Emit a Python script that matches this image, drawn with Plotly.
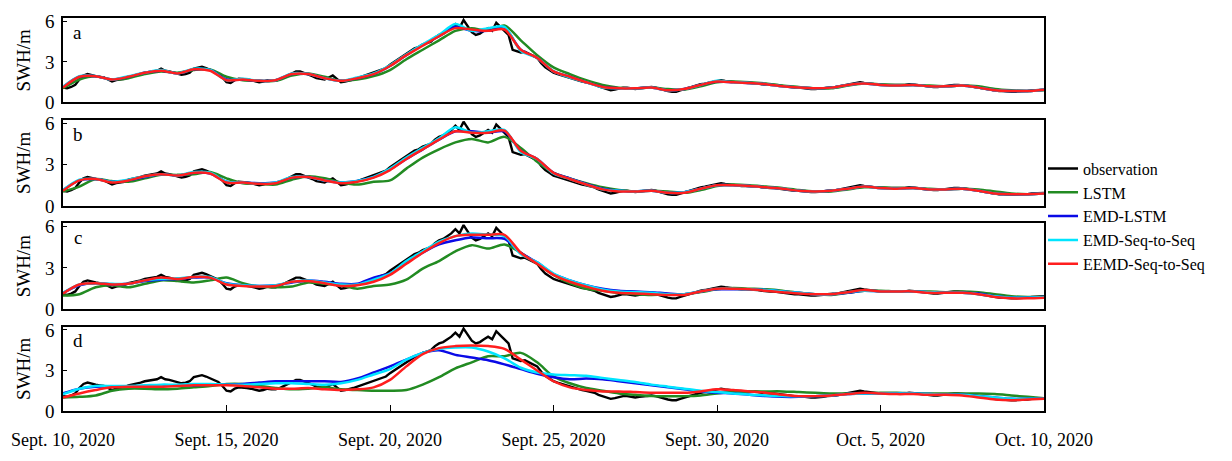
import plotly.graph_objects as go
from plotly.subplots import make_subplots
import pandas as pd

# ---------------- data ----------------
t_obs = pd.date_range("2020-09-10", "2020-10-10", freq="3h")   # 241 points
t_mod = pd.date_range("2020-09-10", "2020-10-10", freq="12h")  # 61 points

observation = [
    1.1, 1.05, 1.15, 1.3, 1.7, 2.0, 2.1, 2.0,        # Sept 10
    1.95, 1.9, 1.85, 1.7, 1.55, 1.65, 1.7, 1.75,     # Sept 11
    1.9, 1.95, 2.0, 2.1, 2.2, 2.25, 2.3, 2.35,       # Sept 12
    2.5, 2.35, 2.3, 2.2, 2.1, 2.05, 2.1, 2.2,        # Sept 13
    2.5, 2.55, 2.65, 2.55, 2.4, 2.3, 2.15, 1.85,     # Sept 14
    1.5, 1.45, 1.65, 1.75, 1.75, 1.7, 1.65, 1.6,     # Sept 15
    1.5, 1.55, 1.65, 1.6, 1.6, 1.7, 1.85, 2.0,       # Sept 16
    2.2, 2.3, 2.3, 2.2, 2.1, 1.95, 1.8, 1.75,        # Sept 17
    1.7, 1.85, 2.0, 1.75, 1.5, 1.55, 1.6, 1.7,       # Sept 18
    1.8, 1.9, 2.0, 2.1, 2.2, 2.3, 2.4, 2.55,         # Sept 19
    2.8, 3.0, 3.2, 3.4, 3.6, 3.8, 4.0, 4.1,          # Sept 20
    4.3, 4.4, 4.5, 4.8, 5.0, 5.1, 5.3, 5.5,          # Sept 21
    5.8, 5.5, 6.1, 5.6, 5.2, 5.0, 5.1, 5.3,          # Sept 22
    5.5, 5.3, 5.9, 5.6, 5.3, 5.0, 3.9, 3.8,          # Sept 23
    3.7, 3.75, 3.6, 3.4, 3.3, 2.9, 2.6, 2.4,         # Sept 24
    2.2, 2.1, 2.0, 1.9, 1.8, 1.7, 1.6, 1.55,         # Sept 25
    1.5, 1.45, 1.35, 1.2, 1.1, 1.0, 0.9, 0.95,       # Sept 26
    1.05, 1.1, 1.1, 1.05, 1.0, 1.05, 1.1, 1.15,      # Sept 27
    1.15, 1.1, 1.0, 0.9, 0.85, 0.8, 0.8, 0.9,        # Sept 28
    1.0, 1.1, 1.2, 1.3, 1.35, 1.4, 1.45, 1.5,        # Sept 29
    1.6, 1.65, 1.6, 1.55, 1.5, 1.5, 1.45, 1.45,      # Sept 30
    1.45, 1.4, 1.4, 1.35, 1.3, 1.3, 1.3, 1.25,       # Oct 1
    1.2, 1.15, 1.1, 1.1, 1.1, 1.05, 1.05, 1.0,       # Oct 2
    1.0, 1.0, 1.05, 1.1, 1.1, 1.15, 1.2, 1.25,       # Oct 3
    1.3, 1.35, 1.4, 1.5, 1.45, 1.4, 1.35, 1.35,      # Oct 4
    1.3, 1.3, 1.3, 1.25, 1.25, 1.3, 1.3, 1.35,       # Oct 5
    1.35, 1.3, 1.25, 1.2, 1.2, 1.15, 1.15, 1.2,      # Oct 6
    1.2, 1.25, 1.3, 1.3, 1.3, 1.25, 1.2, 1.15,       # Oct 7
    1.1, 1.0, 0.95, 0.9, 0.85, 0.85, 0.85, 0.8,      # Oct 8
    0.8, 0.8, 0.8, 0.85, 0.85, 0.9, 0.9, 0.9,        # Oct 9
    0.95,                                            # Oct 10
]

# ---- panel a ----
lstm_a = [
    1.05, 1.7, 1.95, 1.7, 1.8, 2.1, 2.3, 2.2, 2.4, 2.45,
    1.9, 1.65, 1.6, 1.6, 2.0, 2.15, 1.9, 1.6, 1.7, 1.95,
    2.4, 3.2, 3.9, 4.6, 5.3, 5.5, 5.3, 5.7, 4.6, 3.5,
    2.6, 2.1, 1.65, 1.3, 1.1, 1.05, 1.1, 1.0, 0.95, 1.2,
    1.5, 1.55, 1.5, 1.4, 1.25, 1.15, 1.05, 1.05, 1.25, 1.4,
    1.35, 1.3, 1.3, 1.25, 1.2, 1.25, 1.2, 1.0, 0.9, 0.85,
    0.9,
]
emd_lstm_a = [
    1.15, 1.9, 1.95, 1.7, 1.9, 2.2, 2.35, 2.15, 2.45, 2.4,
    1.7, 1.7, 1.6, 1.65, 2.1, 2.1, 1.8, 1.6, 1.8, 2.1,
    2.7, 3.5, 4.25, 4.9, 5.6, 5.3, 5.3, 5.5, 3.9, 3.3,
    2.3, 1.9, 1.5, 1.15, 1.05, 1.05, 1.1, 0.9, 1.0, 1.3,
    1.55, 1.5, 1.45, 1.35, 1.2, 1.1, 1.05, 1.1, 1.3, 1.4,
    1.3, 1.25, 1.3, 1.2, 1.2, 1.25, 1.1, 0.9, 0.85, 0.85,
    0.95,
]
emd_seq_a = [
    1.15, 1.95, 1.95, 1.7, 1.95, 2.2, 2.4, 2.15, 2.5, 2.4,
    1.65, 1.75, 1.6, 1.65, 2.15, 2.1, 1.8, 1.6, 1.85, 2.15,
    2.75, 3.55, 4.3, 5.0, 5.8, 5.3, 5.5, 5.6, 3.8, 3.3,
    2.3, 1.85, 1.5, 1.1, 1.05, 1.05, 1.1, 0.9, 1.0, 1.3,
    1.6, 1.5, 1.45, 1.35, 1.2, 1.1, 1.05, 1.1, 1.3, 1.4,
    1.3, 1.25, 1.3, 1.2, 1.2, 1.25, 1.1, 0.9, 0.85, 0.85,
    0.95,
]
eemd_seq_a = [
    1.1, 1.9, 1.95, 1.7, 1.9, 2.2, 2.35, 2.15, 2.45, 2.35,
    1.65, 1.7, 1.6, 1.65, 2.1, 2.1, 1.8, 1.6, 1.8, 2.1,
    2.7, 3.5, 4.2, 4.9, 5.5, 5.4, 5.3, 5.4, 3.9, 3.3,
    2.3, 1.9, 1.5, 1.15, 1.05, 1.05, 1.1, 0.9, 1.0, 1.3,
    1.55, 1.5, 1.45, 1.35, 1.2, 1.1, 1.05, 1.1, 1.3, 1.4,
    1.3, 1.25, 1.3, 1.2, 1.2, 1.25, 1.1, 0.9, 0.85, 0.85,
    0.95,
]

# ---- panel b ----
lstm_b = [
    1.05, 1.4, 1.95, 1.8, 1.75, 2.0, 2.25, 2.25, 2.3, 2.45,
    2.0, 1.65, 1.6, 1.55, 1.9, 2.15, 2.0, 1.7, 1.55, 1.75,
    1.85, 2.7, 3.5, 4.1, 4.6, 4.85, 4.6, 5.0, 4.2, 3.2,
    2.4, 2.0, 1.65, 1.35, 1.15, 1.05, 1.1, 1.05, 0.95, 1.15,
    1.45, 1.55, 1.5, 1.4, 1.3, 1.15, 1.05, 1.05, 1.2, 1.35,
    1.35, 1.3, 1.3, 1.25, 1.2, 1.25, 1.2, 1.05, 0.9, 0.85,
    0.9,
]
emd_lstm_b = [
    1.15, 1.85, 1.95, 1.75, 1.85, 2.1, 2.3, 2.2, 2.4, 2.35,
    1.75, 1.7, 1.65, 1.7, 2.05, 2.1, 1.85, 1.7, 1.8, 2.1,
    2.65, 3.4, 4.1, 4.8, 5.4, 5.4, 5.3, 5.4, 4.0, 3.4,
    2.4, 2.0, 1.6, 1.25, 1.1, 1.05, 1.1, 0.95, 1.0, 1.25,
    1.5, 1.5, 1.45, 1.35, 1.25, 1.1, 1.05, 1.1, 1.25, 1.4,
    1.3, 1.25, 1.3, 1.2, 1.2, 1.25, 1.1, 0.9, 0.85, 0.85,
    0.9,
]
emd_seq_b = [
    1.15, 1.9, 1.95, 1.75, 1.9, 2.15, 2.3, 2.2, 2.45, 2.4,
    1.75, 1.7, 1.6, 1.7, 2.1, 2.1, 1.85, 1.7, 1.8, 2.1,
    2.7, 3.5, 4.2, 4.9, 5.7, 5.3, 5.4, 5.5, 3.9, 3.4,
    2.35, 1.95, 1.55, 1.2, 1.1, 1.05, 1.1, 0.95, 1.0, 1.25,
    1.5, 1.5, 1.45, 1.35, 1.25, 1.1, 1.05, 1.1, 1.25, 1.4,
    1.3, 1.25, 1.3, 1.2, 1.2, 1.25, 1.1, 0.9, 0.85, 0.85,
    0.9,
]
eemd_seq_b = [
    1.1, 1.85, 1.95, 1.7, 1.85, 2.15, 2.3, 2.2, 2.4, 2.35,
    1.7, 1.7, 1.6, 1.65, 2.05, 2.1, 1.85, 1.65, 1.75, 2.05,
    2.6, 3.4, 4.1, 4.8, 5.4, 5.3, 5.3, 5.45, 4.0, 3.4,
    2.4, 1.95, 1.55, 1.2, 1.05, 1.05, 1.1, 0.95, 0.95, 1.25,
    1.5, 1.5, 1.45, 1.35, 1.25, 1.1, 1.05, 1.1, 1.25, 1.4,
    1.3, 1.25, 1.3, 1.2, 1.2, 1.25, 1.1, 0.9, 0.85, 0.85,
    0.9,
]

# ---- panel c ----
lstm_c = [
    1.0, 1.1, 1.6, 1.75, 1.6, 1.85, 2.1, 2.05, 1.95, 2.1,
    2.3, 1.9, 1.65, 1.6, 1.65, 1.95, 1.85, 1.75, 1.5, 1.7,
    1.8, 2.15, 2.95, 3.5, 4.2, 4.65, 4.4, 4.7, 4.1, 3.3,
    2.5, 1.9, 1.5, 1.35, 1.2, 1.1, 1.05, 1.1, 1.1, 1.25,
    1.45, 1.55, 1.5, 1.45, 1.35, 1.2, 1.1, 1.05, 1.2, 1.35,
    1.35, 1.3, 1.3, 1.3, 1.25, 1.3, 1.25, 1.1, 0.95, 0.9,
    0.9,
]
emd_lstm_c = [
    1.2, 1.75, 1.9, 1.8, 1.85, 2.05, 2.15, 2.2, 2.3, 2.3,
    1.9, 1.75, 1.7, 1.75, 1.95, 2.1, 2.0, 1.85, 1.85, 2.3,
    2.6, 3.4, 4.1, 4.7, 5.0, 5.2, 5.15, 5.1, 4.1, 3.4,
    2.55, 2.1, 1.75, 1.5, 1.35, 1.3, 1.25, 1.15, 1.1, 1.3,
    1.45, 1.45, 1.45, 1.4, 1.3, 1.2, 1.1, 1.1, 1.2, 1.35,
    1.3, 1.3, 1.3, 1.25, 1.2, 1.2, 1.15, 0.95, 0.85, 0.85,
    0.9,
]
emd_seq_c = [
    1.2, 1.8, 1.9, 1.85, 1.85, 2.1, 2.2, 2.25, 2.35, 2.35,
    1.85, 1.75, 1.7, 1.75, 2.0, 2.1, 1.95, 1.8, 1.8, 2.15,
    2.6, 3.5, 4.2, 4.9, 5.3, 5.5, 5.4, 5.3, 4.0, 3.4,
    2.6, 2.1, 1.75, 1.45, 1.3, 1.25, 1.2, 1.1, 1.1, 1.3,
    1.5, 1.5, 1.45, 1.4, 1.3, 1.2, 1.1, 1.1, 1.25, 1.35,
    1.3, 1.3, 1.3, 1.25, 1.2, 1.2, 1.1, 0.95, 0.85, 0.85,
    0.9,
]
eemd_seq_c = [
    1.15, 1.8, 1.9, 1.8, 1.85, 2.1, 2.3, 2.2, 2.35, 2.3,
    1.8, 1.7, 1.65, 1.7, 2.0, 2.05, 1.9, 1.7, 1.75, 2.0,
    2.5, 3.3, 4.1, 4.8, 5.3, 5.4, 5.4, 5.4, 4.1, 3.3,
    2.5, 2.0, 1.65, 1.35, 1.2, 1.15, 1.1, 1.05, 1.05, 1.3,
    1.5, 1.5, 1.45, 1.35, 1.25, 1.15, 1.1, 1.1, 1.25, 1.4,
    1.3, 1.3, 1.3, 1.2, 1.2, 1.2, 1.1, 0.9, 0.8, 0.8,
    0.85,
]

# ---- panel d ----
lstm_d = [
    1.0, 1.05, 1.15, 1.5, 1.65, 1.65, 1.6, 1.65, 1.75, 1.85,
    2.0, 2.0, 1.85, 1.7, 1.6, 1.65, 1.75, 1.6, 1.55, 1.5,
    1.5, 1.55, 1.95, 2.5, 3.15, 3.6, 4.05, 4.05, 4.3, 3.6,
    2.55, 2.05, 1.7, 1.5, 1.3, 1.2, 1.1, 1.1, 1.1, 1.15,
    1.3, 1.4, 1.45, 1.45, 1.45, 1.4, 1.35, 1.3, 1.3, 1.3,
    1.35, 1.35, 1.3, 1.3, 1.3, 1.3, 1.3, 1.25, 1.15, 1.05,
    0.95,
]
emd_lstm_d = [
    1.3, 1.65, 1.8, 1.8, 1.8, 1.8, 1.85, 1.9, 1.9, 1.95,
    1.95, 2.0, 2.1, 2.2, 2.2, 2.2, 2.2, 2.15, 2.4, 2.85,
    3.3, 3.8, 4.3, 4.5, 4.15, 3.95, 3.75, 3.45, 3.1, 2.75,
    2.5, 2.35, 2.4, 2.35, 2.2, 2.05, 1.9, 1.75, 1.6, 1.45,
    1.35, 1.3, 1.2, 1.1, 1.05, 1.05, 1.1, 1.15, 1.25, 1.3,
    1.3, 1.3, 1.3, 1.25, 1.2, 1.2, 1.1, 1.0, 0.9, 0.9,
    0.9,
]
emd_seq_d = [
    1.25, 1.65, 1.85, 1.85, 1.85, 1.9, 1.95, 1.95, 2.0, 2.0,
    1.95, 1.95, 2.0, 2.05, 2.05, 2.0, 1.95, 2.05, 2.3, 2.7,
    3.1, 3.8, 4.3, 4.6, 4.7, 4.7, 4.4, 3.9, 3.2, 2.85,
    2.7, 2.65, 2.6, 2.45, 2.3, 2.15, 1.95, 1.8, 1.65, 1.5,
    1.4, 1.3, 1.2, 1.15, 1.1, 1.1, 1.1, 1.15, 1.25, 1.3,
    1.3, 1.3, 1.3, 1.25, 1.2, 1.2, 1.1, 1.0, 0.9, 0.9,
    0.9,
]
eemd_seq_d = [
    1.0, 1.3, 1.55, 1.75, 1.8, 1.8, 1.8, 1.85, 1.9, 1.9,
    1.9, 1.85, 1.75, 1.65, 1.65, 1.7, 1.6, 1.55, 1.6, 1.75,
    2.3, 3.3, 4.2, 4.65, 4.8, 4.85, 4.8, 4.6, 3.8, 3.0,
    2.2, 1.75, 1.55, 1.45, 1.45, 1.4, 1.35, 1.35, 1.35, 1.45,
    1.6, 1.55, 1.45, 1.35, 1.2, 1.1, 1.1, 1.15, 1.25, 1.35,
    1.3, 1.25, 1.25, 1.2, 1.2, 1.15, 1.0, 0.85, 0.8, 0.85,
    0.9,
]

panel_letters = ["a", "b", "c", "d"]
model_names = ["LSTM", "EMD-LSTM", "EMD-Seq-to-Seq", "EEMD-Seq-to-Seq"]
panel_models = [
    [lstm_a, emd_lstm_a, emd_seq_a, eemd_seq_a],
    [lstm_b, emd_lstm_b, emd_seq_b, eemd_seq_b],
    [lstm_c, emd_lstm_c, emd_seq_c, eemd_seq_c],
    [lstm_d, emd_lstm_d, emd_seq_d, eemd_seq_d],
]
tick_dates = ["2020-09-10", "2020-09-15", "2020-09-20", "2020-09-25",
              "2020-09-30", "2020-10-05", "2020-10-10"]
tick_labels = ["Sept. 10, 2020", "Sept. 15, 2020", "Sept. 20, 2020",
               "Sept. 25, 2020", "Sept. 30, 2020", "Oct. 5, 2020", "Oct. 10, 2020"]

# ---------------- styling ----------------
FONT = "Liberation Serif, Times New Roman, serif"
obs_color = "#000000"
model_colors = ["#228B22", "#0A0AE6", "#00E5FF", "#FF1E1E"]

fig = make_subplots(rows=4, cols=1)

for r in range(4):
    row = r + 1
    fig.add_trace(go.Scatter(
        x=t_obs, y=observation, mode="lines", name="observation",
        line=dict(color=obs_color, width=2.4),
        legendgroup="obs", showlegend=(r == 0)), row=row, col=1)
    for m in range(4):
        fig.add_trace(go.Scatter(
            x=t_mod, y=panel_models[r][m], mode="lines", name=model_names[m],
            line=dict(color=model_colors[m], width=2.5, shape="spline", smoothing=0.8),
            legendgroup=model_names[m], showlegend=(r == 0)), row=row, col=1)

domains = [[0.785, 1.0], [0.5217, 0.7415], [0.2585, 0.4783], [0.0, 0.215]]
for r in range(4):
    row = r + 1
    fig.update_yaxes(row=row, col=1, domain=domains[r], range=[0, 6.25],
                     tickvals=[0, 3, 6], ticks="inside", ticklen=4, tickwidth=1,
                     tickcolor="black", ticklabelstandoff=3,
                     showline=True, mirror=True, linecolor="black", linewidth=1.5,
                     showgrid=False, zeroline=False,
                     tickfont=dict(family=FONT, size=19, color="black"),
                     title=dict(text="SWH/m", font=dict(family=FONT, size=19, color="black"),
                                standoff=9))
    common_x = dict(range=[tick_dates[0], tick_dates[-1]],
                    showline=True, mirror=True, linecolor="black", linewidth=1.5,
                    showgrid=False, zeroline=False)
    if row < 4:
        fig.update_xaxes(row=row, col=1, showticklabels=False, ticks="", **common_x)
    else:
        fig.update_xaxes(row=row, col=1, tickvals=tick_dates, ticktext=tick_labels,
                         ticks="inside", ticklen=6, tickwidth=1, tickcolor="black",
                         ticklabelstandoff=12,
                         tickfont=dict(family=FONT, size=18, color="black"), **common_x)
    xref = "x domain" if row == 1 else f"x{row} domain"
    yref = "y domain" if row == 1 else f"y{row} domain"
    fig.add_annotation(text=panel_letters[r], xref=xref, yref=yref, x=0.015, y=0.83,
                       xanchor="center", yanchor="middle", showarrow=False,
                       font=dict(family=FONT, size=19, color="black"))

fig.update_layout(
    width=1232, height=461,
    margin=dict(l=63, r=188, t=11, b=36),
    paper_bgcolor="white", plot_bgcolor="white",
    font=dict(family=FONT, color="black"),
    legend=dict(x=0.999, y=0.66, xanchor="left", yanchor="top",
                font=dict(family=FONT, size=16, color="black"),
                bgcolor="rgba(0,0,0,0)", borderwidth=0, itemwidth=30,
                tracegroupgap=0),
)

fig.write_html("out.html")
